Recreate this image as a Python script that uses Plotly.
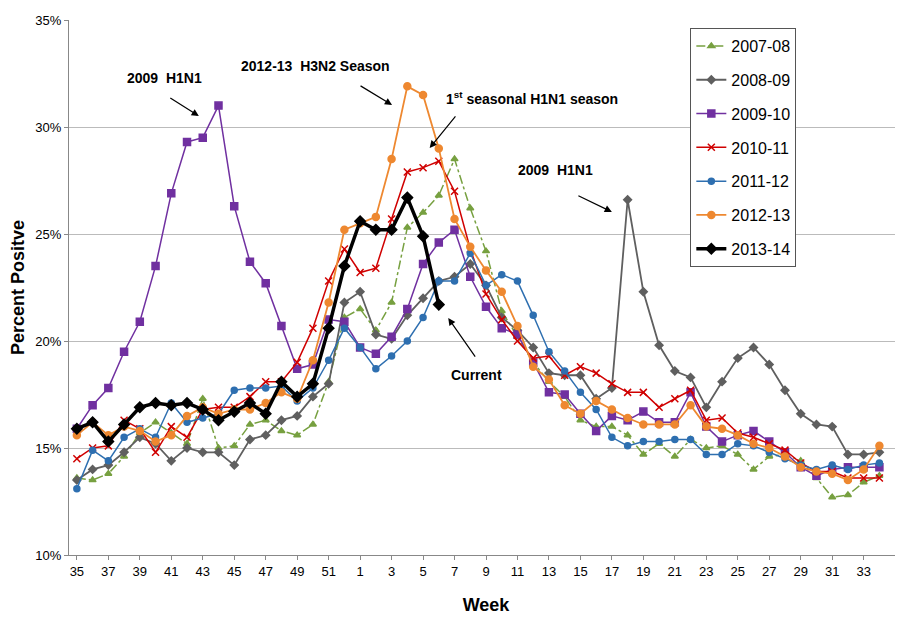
import plotly.graph_objects as go

weeks = list(range(35, 53)) + list(range(1, 35))

s_0708 = [13.6, 13.5, 13.8, 14.6, 15.7, 16.2, 15.7, 15.2, 17.3, 15.0, 15.1, 16.1, 16.3, 15.8, 15.6, 16.1, 18.1, 21.1,
          21.5, 20.5, 21.8, 25.3, 26.0, 26.8, 28.5, 26.2, 24.2, 21.4, 20.2, 19.0, 18.1, 17.4, 16.3, 16.0, 16.0, 15.6,
          14.7, 15.2, 14.6, 15.4, 15.0, 15.1, 14.7, 14.0, 14.6, 14.7, 14.4, 13.6, 12.7, 12.8, 13.4, 13.7]
s_0809 = [13.5, 14.0, 14.2, 14.8, 15.5, 15.2, 14.4, 15.0, 14.8, 14.8, 14.2, 15.4, 15.6, 16.3, 16.5, 17.4, 18.0, 21.8,
          22.3, 20.3, 20.1, 21.2, 22.0, 22.8, 23.0, 23.6, 22.6, 21.1, 20.5, 19.7, 18.5, 18.4, 18.4, 17.3, 17.8, 26.6,
          22.3, 19.8, 18.6, 18.3, 16.9, 18.1, 19.2, 19.7, 18.9, 17.7, 16.6, 16.1, 16.0, 14.7, 14.7, 14.8]
s_0910 = [15.9, 17.0, 17.8, 19.5, 20.9, 23.5, 26.9, 29.3, 29.5, 31.0, 26.3, 23.7, 22.7, 20.7, 18.7, 18.9, 21.0, 20.9,
          19.7, 19.4, 20.2, 21.5, 23.6, 24.6, 25.2, 23.0, 21.6, 20.6, 20.3, 19.0, 17.6, 17.5, 16.6, 15.8, 16.5, 16.3,
          16.7, 16.2, 16.2, 17.6, 16.0, 15.3, 15.6, 15.8, 15.3, 14.8, 14.1, 13.7, 14.0, 14.1, 14.1, 14.1]
s_1011 = [14.5, 15.0, 15.1, 16.3, 15.9, 14.8, 16.0, 15.5, 16.8, 16.9, 16.9, 17.4, 18.1, 18.1, 19.0, 20.6, 22.8, 24.3,
          23.2, 23.4, 25.7, 27.9, 28.1, 28.4, 27.0, 24.3, 22.2, 21.0, 20.0, 19.2, 19.3, 18.4, 18.8, 18.5, 18.0, 17.6,
          17.6, 16.9, 17.3, 17.7, 16.3, 16.4, 15.7, 15.5, 15.2, 14.9, 14.3, 13.9, 13.9, 13.6, 13.6, 13.6]
s_1112 = [13.1, 14.9, 14.4, 15.5, 15.9, 15.5, 17.1, 16.2, 16.4, 16.6, 17.7, 17.8, 17.8, 17.9, 17.2, 17.8, 19.1, 20.6,
          19.7, 18.7, 19.3, 20.0, 21.1, 22.8, 22.8, 24.1, 22.6, 23.1, 22.8, 21.2, 19.5, 18.6, 17.6, 16.8, 15.5, 15.1,
          15.3, 15.3, 15.4, 15.4, 14.7, 14.7, 15.2, 15.1, 14.8, 14.5, 14.2, 14.0, 14.2, 14.0, 14.2, 14.3]
s_1213 = [15.6, 16.2, 15.6, 16.0, 15.8, 15.3, 15.6, 16.5, 16.9, 16.6, 16.8, 16.8, 17.1, 17.6, 17.3, 19.1, 21.8, 25.2,
          25.5, 25.8, 28.5, 31.9, 31.5, 29.0, 25.7, 24.4, 23.3, 22.3, 20.7, 18.8, 18.2, 17.0, 16.6, 17.2, 16.8, 16.4,
          16.1, 16.1, 16.1, 17.0, 16.0, 15.9, 15.6, 15.2, 15.0, 14.6, 14.1, 13.9, 13.8, 13.5, 14.0, 15.1]
s_1314 = [15.9, 16.2, 15.3, 16.1, 16.9, 17.1, 17.0, 17.1, 16.8, 16.3, 16.7, 17.1, 16.6, 18.1, 17.4, 18.0, 20.6, 23.5,
          25.6, 25.2, 25.2, 26.7, 24.9, 21.7]

tick_labels = [str(w) for w in weeks[::2]]

# name, values, color, dash, marker symbol, marker size, line width
series = [
    ("2007-08", s_0708, "#77A040", "dashdot", "triangle-up", 6, 1.5),
    ("2008-09", s_0809, "#5F5F5F", "solid", "diamond", 6, 1.8),
    ("2009-10", s_0910, "#7030A0", "solid", "square", 7, 1.5),
    ("2010-11", s_1011, "#D00000", "solid", "x-thin-open", 7, 1.5),
    ("2011-12", s_1112, "#2E6FB0", "solid", "circle", 6, 1.5),
    ("2012-13", s_1213, "#EE8830", "solid", "circle", 7, 1.8),
    ("2013-14", s_1314, "#000000", "solid", "diamond", 8, 3.5),
]

fig = go.Figure()
for name, vals, color, dash, sym, size, width in series:
    fig.add_trace(go.Scatter(
        x=list(range(len(vals))), y=vals, name=name, legendgroup=name, mode="lines+markers",
        line=dict(color=color, width=width, dash=dash),
        marker=dict(symbol=sym, size=size, color=color, line=dict(color=color, width=1.5)),
    ))

# arrow heads in data coords, tails as pixel offsets
arrows = [
    (7.75, 30.51, -30, -19),
    (20.03, 31.03, -33, -20),
    (22.42, 29.02, 27, -33),
    (34.0, 26.03, -35, -17),
    (23.6, 21.07, 28, 40),
]
for x, y, ax, ay in arrows:
    fig.add_annotation(x=x, y=y, ax=ax, ay=ay, text="", showarrow=True,
                       arrowhead=2, arrowsize=1.2, arrowwidth=1.2, arrowcolor="black")

labels = [
    (5.54, 32.29, "center", "<b>2009  H1N1</b>"),
    (15.18, 32.85, "center", "<b>2012-13  H3N2 Season</b>"),
    (23.3, 31.36, "left", "<b>1<sup>st</sup> seasonal H1N1 season</b>"),
    (30.4, 28.0, "center", "<b>2009  H1N1</b>"),
    (25.4, 18.41, "center", "<b>Current</b>"),
]
for x, y, anchor, txt in labels:
    fig.add_annotation(x=x, y=y, text=txt, showarrow=False, xanchor=anchor,
                       font=dict(size=14, color="black"))

fig.update_layout(
    width=895, height=615,
    margin=dict(l=61, r=0, t=12, b=68),
    plot_bgcolor="white", paper_bgcolor="white",
    font=dict(family="Liberation Sans, Arial, sans-serif", color="black", size=13),
    legend=dict(x=0.745, y=0.985, xanchor="left", yanchor="top", bordercolor="#555555",
                borderwidth=1, font=dict(size=16), tracegroupgap=10, bgcolor="white"),
    xaxis=dict(range=[-0.5, 52.5], tickvals=list(range(0, 52, 2)), ticktext=tick_labels,
               showline=True, linecolor="#888888", ticks="outside", ticklen=4, tickcolor="#888888",
               showgrid=False, zeroline=False,
               title=dict(text="<b>Week</b>", font=dict(size=18), standoff=20)),
    yaxis=dict(range=[10, 35], dtick=5, ticksuffix="%", showline=True, linecolor="#888888",
               gridcolor="#BBBBBB", zeroline=False, ticks="outside", ticklen=4, tickcolor="#888888",
               title=dict(text="<b>Percent Positve</b>", font=dict(size=18), standoff=8)),
)

fig.write_html("out.html")
